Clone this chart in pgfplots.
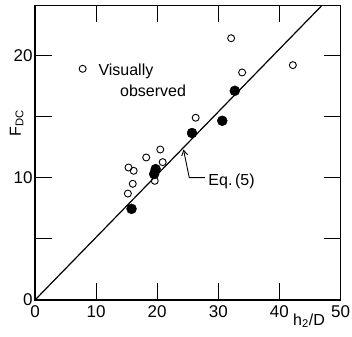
\documentclass[border=0pt]{standalone}
\usepackage{pgfplots}
\pgfplotsset{compat=1.18}
\usepackage{fontspec}
\setmainfont{Liberation Sans}
\usetikzlibrary{arrows.meta}
\begin{document}
\begin{tikzpicture}
\path[use as bounding box] (-35pt,-36pt) rectangle (317pt,300pt);
\begin{axis}[
  scale only axis,
  width=305.5pt, height=294.8pt,
  xmin=0, xmax=50, ymin=0, ymax=24.1,
  xtick={0,10,20,30,40,50},
  ytick={0,5,10,15,20},
  yticklabels={0,,10,,20},
  tick align=inside,
  major tick length=17pt,
  tick style={line width=1pt, black},
  axis line style={line width=1.2pt},
  font=\fontsize{16}{19}\selectfont,
  /pgf/number format/assume math mode=true,
  xticklabel style={font=\fontsize{17}{19}\selectfont, yshift=-2pt},
  yticklabel style={font=\fontsize{17}{19}\selectfont, xshift=1pt},
  xlabel={h\textsubscript{2}/D},
  xlabel style={at={(axis description cs:0.897,-0.07)}, anchor=center},
  ylabel={F\textsubscript{DC}},
  ylabel style={at={(axis description cs:-0.06,0.6)}, anchor=center},
  clip=false,
]
\addplot[black, line width=1.2pt] coordinates {(0,0) (47,24.1)};
\addplot[only marks, mark=o, mark size=3.5pt, mark options={line width=0.9pt, black}] coordinates {
(32.1,21.4) (42.2,19.2) (33.9,18.6) (26.3,14.9) (20.5,12.3) (18.2,11.65)
(20.9,11.27) (15.3,10.83) (16.15,10.56) (16.0,9.5) (15.2,8.7) (19.6,9.74)
};
\addplot[only marks, mark=o, mark size=3.5pt, mark options={line width=0.9pt, black}] coordinates {(7.8,18.9)};
\addplot[only marks, mark=*, mark size=5pt, black] coordinates {
(15.8,7.45) (19.5,10.3) (19.75,10.7) (25.7,13.65) (30.65,14.65) (32.7,17.1)
};
\node[anchor=base west, inner sep=0pt] at (axis cs:10.36,18.38) {Visually};
\node[anchor=base west, inner sep=0pt] at (axis cs:13.9,16.65) {observed};
\node[anchor=base west, inner sep=0pt] at (axis cs:28.36,9.37) {Eq.\,(5)};
\draw[{Straight Barb[length=5pt,width=6pt]}-, line width=0.9pt] (axis cs:24.3,12.3) -- (axis cs:25.25,10.0) -- (axis cs:27.8,10.0);
\end{axis}
\end{tikzpicture}
\end{document}
